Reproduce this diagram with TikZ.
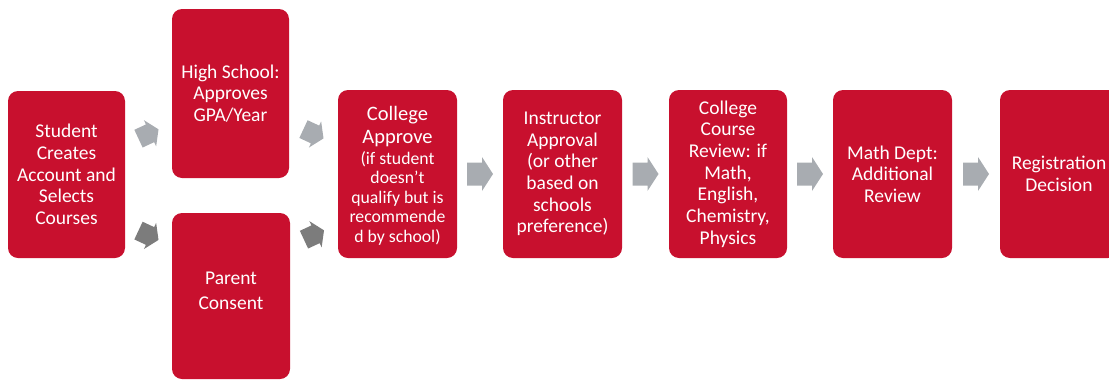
\documentclass[tikz,border=0pt]{standalone}
\usepackage{fontspec}
\setmainfont{Carlito}
\usetikzlibrary{calc}
\definecolor{boxred}{RGB}{200,16,46}
\definecolor{arrlight}{RGB}{168,172,177}
\definecolor{arrdark}{RGB}{124,124,124}
\tikzset{
  stepbox/.style={fill=boxred, rounded corners=10pt, text=white, align=center,
    inner sep=2pt, font=\fontsize{19.5}{21.7}\selectfont},
  smalltext/.style={font=\fontsize{17.7}{19.5}\selectfont},
  barrow/.pic={\fill[pic actions] (-13,-11.5) -- (2,-11.5) -- (2,-17) -- (13,0) -- (2,17) -- (2,11.5) -- (-13,11.5) -- cycle;}
}
\begin{document}
\begin{tikzpicture}[x=1pt,y=-1pt]
\useasboundingbox (0,0) rectangle (1109,381);
\clip (0,0) rectangle (1109,381);
\node[stepbox, minimum width=117pt, minimum height=167pt] (student) at (66.5,174.5) {Student\\Creates\\Account and\\Selects\\Courses};
\node[stepbox, minimum width=117pt, minimum height=169pt] (hs) at (230.5,93.5) {High School:\\Approves\\GPA/Year};
\node[stepbox, minimum width=118pt, minimum height=166pt,
  label={[text=white, align=center, font=\fontsize{19.5}{21.7}\selectfont, yshift=5.5pt]center:Parent\\[3pt]Consent}] (parent) at (231,296) {};
\node[stepbox, smalltext, minimum width=119pt, minimum height=168pt,
  label={[text=white, align=center, font=\fontsize{17.7}{19.5}\selectfont, yshift=-1.5pt]center:{\fontsize{20.5}{25}\selectfont College}\\[4pt]{\fontsize{20.5}{25}\selectfont Approve}\\[1pt](if student\\doesn't\\qualify but is\\recommende\\d by school)}] (college) at (397.5,174) {};
\node[stepbox, minimum width=119pt, minimum height=168pt] (instr) at (562.5,174) {Instructor\\Approval\\(or other\\based on\\schools\\preference)};
\node[stepbox, minimum width=118pt, minimum height=168pt] (course) at (728,174) {College\\Course\\Review: if\\Math,\\English,\\Chemistry,\\Physics};
\node[stepbox, minimum width=119pt, minimum height=168pt] (math) at (892.5,174) {Math Dept:\\Additional\\Review};
\node[stepbox, minimum width=118pt, minimum height=168pt] (reg) at (1059,174) {Registration\\Decision};
% diagonal block arrows
\pic[fill=arrlight, rotate=25, scale=0.85] at ($(student.east)!0.5!(hs.west)$ |- 0,134.5) {barrow};
\pic[fill=arrdark, rotate=-25, scale=0.85] at ($(student.east)!0.5!(parent.west)$ |- 0,229) {barrow};
\pic[fill=arrlight, rotate=-25, scale=0.85] at ($(hs.east)!0.5!(college.west)$ |- 0,132.5) {barrow};
\pic[fill=arrdark, rotate=25, scale=0.85] at ($(parent.east)!0.5!(college.west)$ |- 0,232.5) {barrow};
% horizontal block arrows
\pic[fill=arrlight] at ($(college.east)!0.5!(instr.west)$ |- 0,175.5) {barrow};
\pic[fill=arrlight] at ($(instr.east)!0.5!(course.west)$ |- 0,175.5) {barrow};
\pic[fill=arrlight] at ($(course.east)!0.5!(math.west)$ |- 0,175.5) {barrow};
\pic[fill=arrlight] at ($(math.east)!0.5!(reg.west)$ |- 0,175.5) {barrow};
\end{tikzpicture}
\end{document}
